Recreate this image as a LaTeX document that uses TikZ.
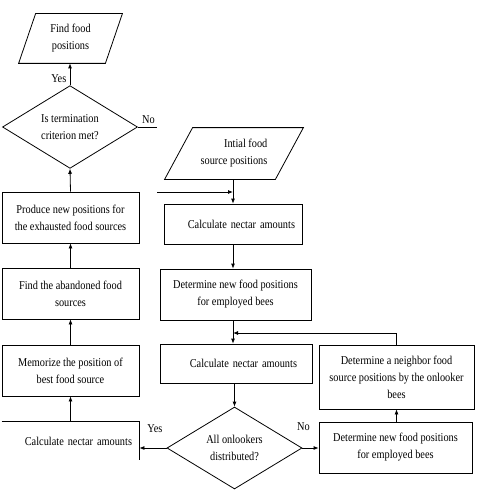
\documentclass[tikz,border=0pt]{standalone}
\usepackage{fontspec}
\setmainfont{Liberation Serif}[FakeStretch=0.86]
\usetikzlibrary{shapes.geometric,arrows.meta}

\begin{document}
\begin{tikzpicture}[x=1pt,y=-1pt,>={Latex[length=5pt,width=4pt]},line width=0.8pt,
  font=\fontsize{12}{17}\selectfont,
  stepbox/.style={draw,rectangle,align=center,inner sep=2pt},
  tallybox/.style={rectangle,align=right,inner xsep=7pt},
  iobox/.style={rectangle,inner sep=0pt},
  askbox/.style={draw,diamond,align=center,inner sep=0pt}]
\useasboundingbox (0,0) rectangle (477,495);
% left column
\node[iobox,align=center,minimum width=86,minimum height=49] (find) at (70.5,38.5) {Find food\\positions};
\draw ([xshift=8.5]find.north west) -- ([xshift=8.5]find.north east)
  -- ([xshift=-8.5]find.south east) -- ([xshift=-8.5]find.south west) -- cycle;
\node[askbox,minimum width=135,minimum height=75] (term) at (70,127) {Is termination\\criterion met?};
\node[stepbox,minimum width=137,minimum height=51] (produce) at (70.5,217.5) {Produce new positions for\\the exhausted food sources};
\node[stepbox,minimum width=137,minimum height=51] (abandon) at (70.5,293.5) {Find the abandoned food\\sources};
\node[stepbox,minimum width=137,minimum height=51] (memo) at (70.5,370.5) {Memorize the position of\\best food source};
\node[tallybox,text width=123,minimum height=38] (calcL) at (70.5,441) {Calculate nectar amounts};
\draw (calcL.north west) -- (calcL.north east) -- (calcL.south east);
% right column
\node[iobox,align=right,minimum width=110,minimum height=51] (init) at (234,153.5) {Intial food\\source positions};
\draw ([xshift=14]init.north west) -- ([xshift=14]init.north east)
  -- ([xshift=-14]init.south east) -- ([xshift=-14]init.south west) -- cycle;
\node[tallybox,draw,text width=124,minimum height=40] (calc1) at (233,224) {Calculate nectar amounts};
\node[stepbox,minimum width=151,minimum height=51] (emp1) at (235.5,294.5) {Determine new food positions\\for employed bees};
\node[tallybox,draw,text width=122,minimum width=152,minimum height=39] (calc2) at (236,363.5) {Calculate nectar amounts};
\node[askbox,minimum width=135,minimum height=76] (onl) at (234.5,448) {All onlookers\\distributed?};
\node[stepbox,minimum width=153,minimum height=51] (emp2) at (395.5,447.5) {Determine new food positions\\for employed bees};
\node[stepbox,minimum width=155,minimum height=64] (neigh) at (396.5,377) {Determine a neighbor food\\source positions by the onlooker\\bees};
% connectors
\coordinate (noend) at (157,127);
\coordinate (backin) at (157,192);
\coordinate (merge) at (233,333);
\draw[->] (term.north) -- node[left,pos=0.3] {Yes} (find.south -| term.north);
\draw (term.east) -- node[above,pos=0.55] {No} (noend);
\draw[->] (backin) -- (backin -| calc1.north);
\draw[->] (calc1.north |- init.south) -- (calc1.north);
\draw[->] (calc1.south) -- (calc1.south |- emp1.north);
\draw[->] (calc1.south |- emp1.south) -- (calc1.south |- calc2.north);
\draw[->] (neigh.north) |- (merge);
\draw[->] (calc2.south -| onl.north) -- (onl.north);
\draw[->] (onl.west) -- node[above=12pt,pos=0.43] {Yes} (calcL.east |- onl.west);
\draw[->] (onl.east) -- node[above=14pt,pos=0.06] {No} (emp2.west |- onl.east);
\draw[->] (emp2.north -| neigh.south) -- (neigh.south);
\draw[->] (calcL.north -| memo.south) -- (memo.south);
\draw[->] (memo.north) -- (abandon.south);
\draw[->] (abandon.north) -- (produce.south);
\draw[->] (produce.north) -- (term.south);
\end{tikzpicture}
\end{document}
